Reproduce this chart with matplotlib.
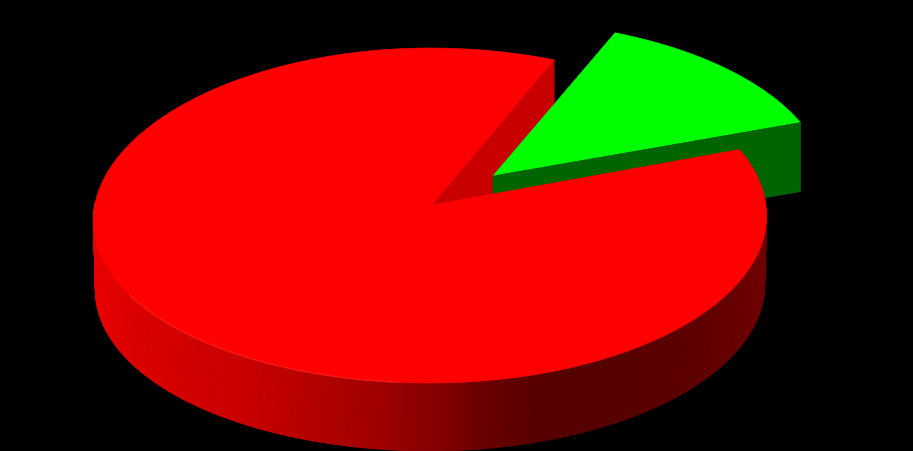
import numpy as np
import matplotlib
matplotlib.use("Agg")
import matplotlib.pyplot as plt
from matplotlib.patches import Polygon

values = [13.1, 86.9]
start_angle = 67  # green slice runs clockwise from here
top_colors = ["#00ff00", "#ff0000"]
cut_colors = ["#006400", "#c80000"]

# brightness of the red outer wall going left to right over the picture
wall_x = [93, 150, 250, 330, 380, 430, 480, 540, 620, 700, 767]
wall_red = [232, 218, 200, 176, 160, 138, 108, 86, 86, 96, 112]

apex_x, apex_y = 432, 205  # where the slices meet
cx, cy = 430, 205  # centre of the rim
rx, ry = 336, 166.8
persp = 0.0627
depth = 69
rim_shift = (61, -27)
apex_shift = (61, -29)


def project(theta, z=0.0, shift=(0, 0)):
    u = np.cos(theta)
    v = np.sin(theta)
    w = 1 + persp * v
    scale = 1 - 0.006 * z / depth
    x = cx + scale * rx * u / w + shift[0]
    # left side of the rim hangs a little lower in the reference
    y = cy - scale * ry * v / w + z + shift[1] + 5 * np.minimum(u, 0) ** 2
    return x, y


def wedge(a0, a1, rim, apex):
    th = np.linspace(a0, a1, 120)
    x, y = project(th, shift=rim)
    return np.column_stack([np.r_[apex[0], x], np.r_[apex[1], y]])


frac = np.array(values) / sum(values) * 2 * np.pi
a0 = np.radians(start_angle)
green = (a0, a0 - frac[0])
red = (a0 - frac[0], a0 - frac[0] - frac[1])
red_apex = (apex_x, apex_y)
green_apex = (apex_x + apex_shift[0], apex_y + apex_shift[1])

fig = plt.figure(figsize=(9.13, 4.51), dpi=100, facecolor="black")
ax = fig.add_axes([0, 0, 1, 1])
ax.set_xlim(0, 913)
ax.set_ylim(451, 0)
ax.axis("off")

# red cut face seen through the gap
x1, y1 = project(red[1])
notch = [red_apex, (x1, y1), (x1, y1 + depth), (red_apex[0], red_apex[1] + depth)]
ax.add_patch(Polygon(notch, fc=cut_colors[1], ec=cut_colors[1], lw=0.5, zorder=1))

# green slice, its cut face faces the viewer
ax.add_patch(Polygon(wedge(green[0], green[1], rim_shift, green_apex),
                     fc=top_colors[0], ec=top_colors[0], lw=0.5, zorder=2))
x2, y2 = project(green[1], shift=rim_shift)
face = [green_apex, (x2, y2), (x2, y2 + depth), (green_apex[0], green_apex[1] + depth)]
ax.add_patch(Polygon(face, fc=cut_colors[0], ec=cut_colors[0], lw=0.5, zorder=3))

# red outer wall, thin strips along the lower half of the rim
th = np.linspace(np.radians(-3), np.radians(-183), 361)
for t0, t1 in zip(th[:-1], th[1:]):
    xa, ya = project(t0)
    xb, yb = project(t1)
    xc, yc = project(t1, depth)
    xd, yd = project(t0, depth)
    level = np.interp((xa + xb) / 2, wall_x, wall_red) / 255
    ax.add_patch(Polygon([(xa, ya), (xb, yb), (xc, yc), (xd, yd)],
                         fc=(level, 0, 0), ec=(level, 0, 0), lw=0.6, zorder=4))

# red top
ax.add_patch(Polygon(wedge(red[0], red[1], (0, 0), red_apex),
                     fc=top_colors[1], ec=top_colors[1], lw=0.5, zorder=5))

# soft light along the near rim on the left
th = np.radians(np.linspace(-95, -150, 80))
xr, yr = project(th)
ax.plot(xr, yr, color="#ff3030", lw=1, alpha=0.5, zorder=6)

fig.savefig("out.png", dpi=100, facecolor="black")
